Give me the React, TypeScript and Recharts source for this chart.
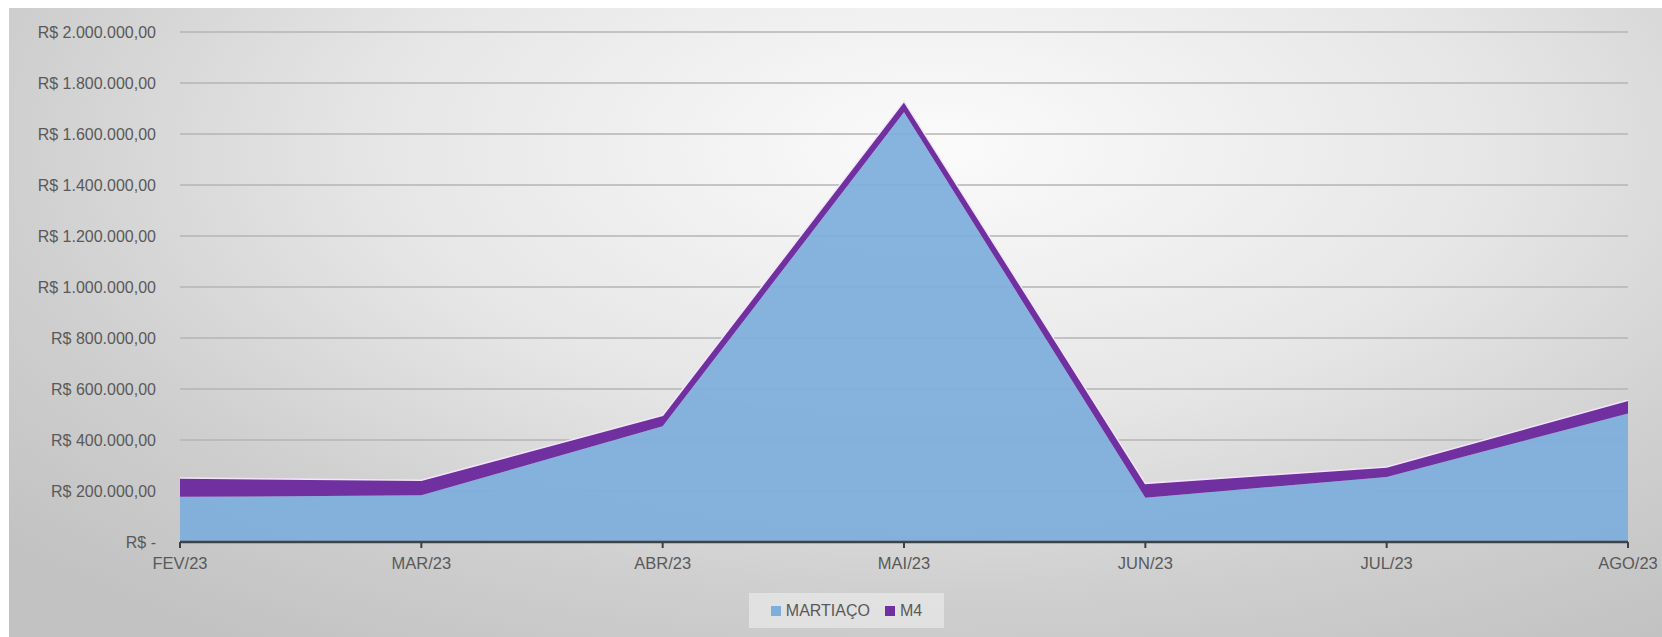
import React from 'react';
import { AreaChart, Area, XAxis, YAxis, CartesianGrid, Legend } from 'recharts';

// values (R$)
const months = ['FEV/23', 'MAR/23', 'ABR/23', 'MAI/23', 'JUN/23', 'JUL/23', 'AGO/23'];
const martiaco = [177000, 183000, 454000, 1685000, 174000, 255000, 504000];
const m4 = [74000, 59000, 43000, 43000, 56000, 39000, 52000];
const yTicks = [0, 200000, 400000, 600000, 800000, 1000000, 1200000, 1400000, 1600000, 1800000, 2000000];

const data = months.map((month, i) => ({
  month,
  MARTIAÇO: martiaco[i],
  M4: m4[i],
}));

const BLUE = '#7eaedc';
const PURPLE = '#7030a0';
const FONT = '"Liberation Sans", Arial, sans-serif';

const formatBRL = (v: number) => {
  if (v === 0) return 'R$ -';
  const s = Math.round(v).toString().replace(/\B(?=(\d{3})+(?!\d))/g, '.');
  return `R$ ${s},00`;
};

const LegendBox = () => (
  <div
    style={{
      display: 'flex',
      alignItems: 'center',
      justifyContent: 'center',
      gap: 5,
      height: 35,
      background: 'rgba(238,238,238,0.6)',
      fontFamily: FONT,
      fontSize: 16,
      color: '#595959',
    }}
  >
    <span style={{ width: 10, height: 10, background: BLUE, display: 'inline-block' }} />
    <span style={{ marginRight: 10 }}>MARTIAÇO</span>
    <span style={{ width: 10, height: 10, background: PURPLE, display: 'inline-block' }} />
    <span>M4</span>
  </div>
);

export default function App() {
  return (
    <>
      <style>{'body{margin:0;overflow:hidden}'}</style>
      <div
        style={{
          position: 'absolute',
          left: 9,
          top: 8,
          width: 1653,
          height: 629,
          background:
            'radial-gradient(ellipse 75% 95% at 56% 22%, #fbfbfb 0%, #e6e6e6 45%, #cfcfcf 75%, #c2c2c2 100%)',
        }}
      >
        <AreaChart
          width={1653}
          height={629}
          data={data}
          margin={{ top: 24, right: 34, left: 0, bottom: 0 }}
        >
          <CartesianGrid vertical={false} stroke="#b4b4b4" strokeWidth={1.5} />
          <XAxis
            dataKey="month"
            height={60}
            tick={{ fill: '#595959', fontSize: 16.5, fontFamily: FONT }}
            tickLine={{ stroke: '#404040', strokeWidth: 2 }}
            axisLine={{ stroke: '#3f4246', strokeWidth: 2.5 }}
            tickSize={6}
            tickMargin={9}
            interval={0}
            padding={{ left: 0, right: 0 }}
          />
          <YAxis
            width={171}
            domain={[0, 2000000]}
            ticks={yTicks}
            tickFormatter={formatBRL}
            tick={{ fill: '#595959', fontSize: 16, fontFamily: FONT }}
            axisLine={false}
            tickLine={false}
            tickSize={0}
            tickMargin={24}
            interval={0}
          />
          <Area
            type="linear"
            dataKey="MARTIAÇO"
            stackId="a"
            fill={BLUE}
            fillOpacity={0.93}
            stroke="none"
            isAnimationActive={false}
          />
          <Area
            type="linear"
            dataKey="M4"
            stackId="a"
            fill={PURPLE}
            fillOpacity={1}
            stroke="#f3e6f8"
            strokeWidth={1.5}
            isAnimationActive={false}
          />
          <Legend
            verticalAlign="bottom"
            content={<LegendBox />}
            wrapperStyle={{ left: 740, width: 195, bottom: 9 }}
          />
        </AreaChart>
      </div>
    </>
  );
}
